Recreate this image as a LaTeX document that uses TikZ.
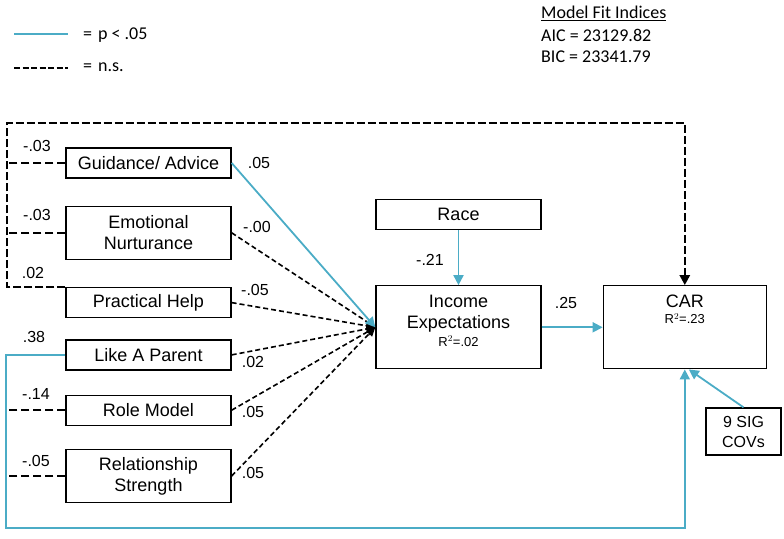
\documentclass[tikz,border=0pt]{standalone}
\usepackage{fontspec}
\setmainfont{Liberation Sans}
\newfontfamily\fitfont{Carlito}
\usetikzlibrary{positioning,arrows.meta}

\definecolor{sigblue}{RGB}{75,172,198}

\tikzset{
  var/.style={draw, line width=1.3pt, minimum width=165pt, minimum height=30pt,
    inner sep=2pt, align=center, font=\fontsize{18}{21}\selectfont},
  var2/.style={var, minimum height=53pt},
  coef/.style={inner sep=0pt, font=\fontsize{16}{18}\selectfont},
  keytext/.style={anchor=west, inner sep=0pt, font=\fitfont\fontsize{18}{21}\selectfont},
  sig/.style={draw=sigblue, line width=1.8pt, -{Triangle[length=10pt,width=10pt]}},
  ns/.style={draw=black, line width=1.6pt, dash pattern=on 5pt off 3pt,
    -{Triangle[length=9pt,width=8pt]}},
  nsleft/.style={draw=black, line width=2pt, dash pattern=on 8pt off 4pt},
  nsbold/.style={draw=black, line width=2.6pt, dash pattern=on 8pt off 3pt,
    -{Triangle[length=10pt,width=10pt]}},
}

\newcommand{\rsq}[1]{{\fontsize{13}{15}\selectfont R$^{2}$=.#1}}

\begin{document}
\begin{tikzpicture}[x=1pt, y=-1pt]

    \useasboundingbox (0,0) rectangle (784,538);

    % Define nodes
    \node[var]                      (guid) at (148.5,163) {Guidance/ Advice};
    \node[var2, below=27pt of guid] (emot) {Emotional\\Nurturance};
    \node[var,  below=27pt of emot] (prac) {Practical Help};
    \node[var,  below=21pt of prac] (like) {Like A Parent};
    \node[var,  below=24pt of like] (role) {Role Model};
    \node[var2, below=23pt of role] (rel)  {Relationship\\Strength};

    \node[var]                      (race) at (458.5,214.5) {Race};
    \node[var, below=55pt of race, inner sep=3pt]  (inc)
      {\parbox[c][77pt][t]{158pt}{\centering\vspace*{6pt}Income\\Expectations\\[-3pt]\rsq{02}}};
    \node[var, right=61pt of inc, minimum width=163pt, inner sep=3pt]   (car)
      {\parbox[c][77pt][t]{156pt}{\centering\vspace*{6pt}CAR\\[-5pt]\rsq{23}}};
    \node[var, minimum width=75pt, minimum height=47pt, font=\fontsize{16}{20}\selectfont]
      (covs) at (743.5,431.5) {9 SIG\\COVs};

    % Legend
    \coordinate (ka) at (14,34);
    \coordinate (kb) at (68,34);
    \coordinate (kc) at (14,68);
    \coordinate (kd) at (68,68);
    \draw[draw=sigblue, line width=2.4pt] (ka) -- (kb);
    \draw[draw=black, line width=2.6pt, dash pattern=on 6pt off 2.5pt] (kc) -- (kd);
    \node[keytext] (ksig) at (83,35) {=\,\,p < .05};
    \node[keytext] (kns)  at (83,67) {=\,\,n.s.};

    % Fit indices
    \node[keytext] (fit) at (541,13) {\underline{Model Fit Indices}};
    \node[keytext] (aic) at (541,35) {AIC = 23129.82};
    \node[keytext] (bic) at (541,57) {BIC = 23341.79};

    % Paths to Income Expectations
    \draw[ns]  (emot.east) -- (inc.west);
    \draw[ns]  (prac.east) -- (inc.west);
    \draw[ns]  (like.east) -- (inc.west);
    \draw[ns]  (role.east) -- (inc.west);
    \draw[ns]  (rel.east)  -- (inc.west);
    \draw[sig] (guid.east) -- (inc.west);
    \draw[sig] (race.south) -- (race.south |- inc.north);

    \node[coef] (pguid) at (259,163) {.05};
    \node[coef] (pemot) at (257,227) {-.00};
    \node[coef] (pprac) at (255,290) {-.05};
    \node[coef] (plike) at (253,362) {.02};
    \node[coef] (prole) at (253,412) {.05};
    \node[coef] (prel)  at (253,473) {.05};
    \node[coef] (prace) at (430,260) {-.21};

    % Paths to CAR
    \coordinate (tl) at (7,123);
    \coordinate (bl) at (6,528);
    \draw[nsbold] (prac.north west) -| (tl) -| (car.north);
    \draw[nsleft] (guid.west) -- (guid.west -| tl);
    \draw[nsleft] (emot.west) -- (emot.west -| tl);
    \draw[nsleft] (role.west) -- (role.west -| tl);
    \draw[nsleft] (rel.west)  -- (rel.west -| tl);
    \draw[sig] (like.west) -| (bl) -| (car.south);
    \draw[sig] (covs.north) -- ([xshift=4pt]car.south);
    \draw[sig] (inc.east) -- (inc.east -| car.west);

    \node[coef] (cguid) at (37,146) {-.03};
    \node[coef] (cemot) at (37,215) {-.03};
    \node[coef] (cprac) at (33,273) {.02};
    \node[coef] (clike) at (34,337) {.38};
    \node[coef] (crole) at (36,394) {-.14};
    \node[coef] (crel)  at (36,461) {-.05};
    \node[coef] (cinc)  at (566,303) {.25};

\end{tikzpicture}
\end{document}
